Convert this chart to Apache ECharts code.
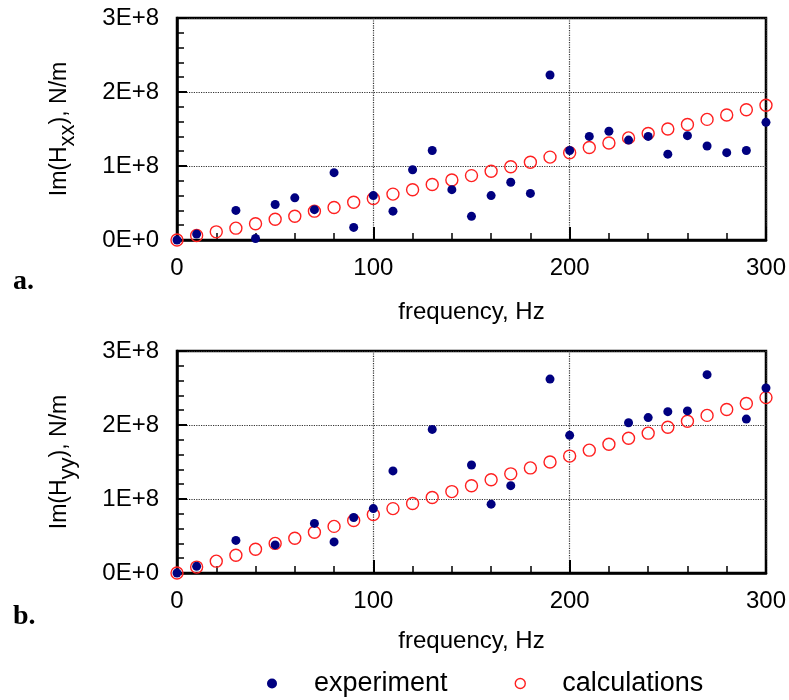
<!DOCTYPE html>
<html>
<head>
<meta charset="utf-8">
<script src="https://cdn.jsdelivr.net/npm/echarts@6/dist/echarts.min.js"></script>
<style>
  html, body { margin: 0; padding: 0; background: #fff; }
  #chart { width: 789px; height: 700px; }
</style>
</head>
<body>
<div id="chart"></div>
<script>
// frequency, Hz (every 10 Hz)
var freqs = [0,10,20,30,40,50,60,70,80,90,100,110,120,130,140,150,160,170,180,190,200,210,220,230,240,250,260,270,280,290,300];

// values in units of 1E+8 N/m, null = no point
var expA  = [0,0.08,null,0.40,0.02,0.48,0.57,0.41,0.91,0.17,0.60,0.39,0.95,1.21,0.68,0.32,0.60,0.78,0.63,2.23,1.21,1.40,1.47,1.35,1.40,1.16,1.41,1.27,1.18,1.21,1.59];
var calcA = [0,0.06,0.11,0.16,0.22,0.28,0.32,0.39,0.44,0.51,0.56,0.62,0.68,0.75,0.81,0.87,0.93,0.99,1.05,1.12,1.18,1.25,1.31,1.38,1.44,1.50,1.56,1.63,1.69,1.76,1.82];
var expB  = [0,0.09,null,0.44,null,0.38,null,0.67,0.42,0.75,0.87,1.38,null,1.94,null,1.46,0.93,1.18,null,2.62,1.86,null,null,2.03,2.10,2.18,2.19,2.68,null,2.08,2.50];
var calcB = [0,0.08,0.16,0.24,0.32,0.40,0.47,0.55,0.63,0.71,0.79,0.87,0.94,1.02,1.10,1.18,1.26,1.34,1.42,1.50,1.58,1.66,1.74,1.82,1.89,1.97,2.05,2.13,2.21,2.29,2.37];

var yTicks = ['0E+0','1E+8','2E+8','3E+8'];

function pairs(vals) {
    var out = [];
    for (var i = 0; i < freqs.length; i++) {
        if (vals[i] !== null) out.push([freqs[i], vals[i]]);
    }
    return out;
}

var font = "'Liberation Sans', Arial, sans-serif";
var gridTops = [18, 351];

function xAxisCfg(idx, gap) {
    return {
        type: 'value', gridIndex: idx, min: 0, max: 300, interval: 100,
        name: 'frequency, Hz', nameLocation: 'middle', nameGap: gap,
        nameTextStyle: { fontFamily: font, fontSize: 24, color: '#000' },
        axisLine: { lineStyle: { color: '#000', width: 2.5 } },
        axisTick: { inside: true, length: 13, lineStyle: { color: '#000', width: 2 } },
        minorTick: { show: true, splitNumber: 5, length: 7, lineStyle: { color: '#000', width: 1.5 } },
        axisLabel: { fontFamily: font, fontSize: 24, color: '#000', margin: 16 },
        splitLine: { show: true, lineStyle: { color: '#333', type: 'dotted', width: 1.2 } }
    };
}

function yAxisCfg(idx, sub) {
    return {
        type: 'value', gridIndex: idx, min: 0, max: 3, interval: 1,
        name: '{m|Im(H}{s|' + sub + '}{m|), N/m}', nameLocation: 'middle', nameGap: 98,
        nameTextStyle: {
            rich: {
                m: { fontFamily: font, fontSize: 23, color: '#000' },
                s: { fontFamily: font, fontSize: 22, color: '#000', padding: [16, 0, 0, 0] }
            }
        },
        axisLine: { lineStyle: { color: '#000', width: 2.5 } },
        axisTick: { inside: true, length: 10, lineStyle: { color: '#000', width: 2 } },
        minorTick: { show: true, splitNumber: 5, length: 7, lineStyle: { color: '#000', width: 1.5 } },
        axisLabel: {
            fontFamily: font, fontSize: 24, color: '#000', margin: 18,
            formatter: function (v) { return yTicks[Math.round(v)]; }
        },
        splitLine: { show: true, lineStyle: { color: '#333', type: 'dotted', width: 1.2 } }
    };
}

function expSeries(idx, vals) {
    return {
        name: 'experiment', type: 'scatter', xAxisIndex: idx, yAxisIndex: idx,
        data: pairs(vals), symbol: 'circle', symbolSize: 9, z: 3,
        itemStyle: { color: '#000080', opacity: 1 }
    };
}

function calcSeries(idx, vals) {
    return {
        name: 'calculations', type: 'scatter', xAxisIndex: idx, yAxisIndex: idx,
        data: pairs(vals), symbol: 'circle', symbolSize: 12, z: 2,
        itemStyle: { color: 'rgba(255,255,255,0)', borderColor: '#ff2020', borderWidth: 1.4, opacity: 1 }
    };
}

var chart = echarts.init(document.getElementById('chart'));
var option = {
    backgroundColor: '#fff',
    animation: false,
    grid: [
        { left: 177, top: gridTops[0], width: 591, height: 222, show: true, borderColor: '#000', borderWidth: 2.5 },
        { left: 177, top: gridTops[1], width: 591, height: 222, show: true, borderColor: '#000', borderWidth: 2.5 }
    ],
    xAxis: [xAxisCfg(0, 60), xAxisCfg(1, 56)],
    yAxis: [yAxisCfg(0, 'xx'), yAxisCfg(1, 'yy')],
    legend: {
        left: 262, top: 665, itemGap: 67, itemWidth: 10, itemHeight: 10,
        data: [
            { name: 'experiment', itemStyle: { color: '#000080', opacity: 1 } },
            { name: 'calculations', itemStyle: { color: '#fff', borderColor: '#ff2020', borderWidth: 1.4 } }
        ],
        textStyle: { fontFamily: font, fontSize: 27, color: '#000', padding: [0, 0, 0, 32] }
    },
    graphic: [
        { type: 'text', left: 13, top: 268, style: { text: 'a.', font: "bold 28px 'Liberation Serif', 'DejaVu Serif', serif", fill: '#000' } },
        { type: 'text', left: 13, top: 603, style: { text: 'b.', font: "bold 28px 'Liberation Serif', 'DejaVu Serif', serif", fill: '#000' } }
    ],
    series: [
        calcSeries(0, calcA), expSeries(0, expA),
        calcSeries(1, calcB), expSeries(1, expB)
    ]
};
chart.setOption(option);
</script>
</body>
</html>
